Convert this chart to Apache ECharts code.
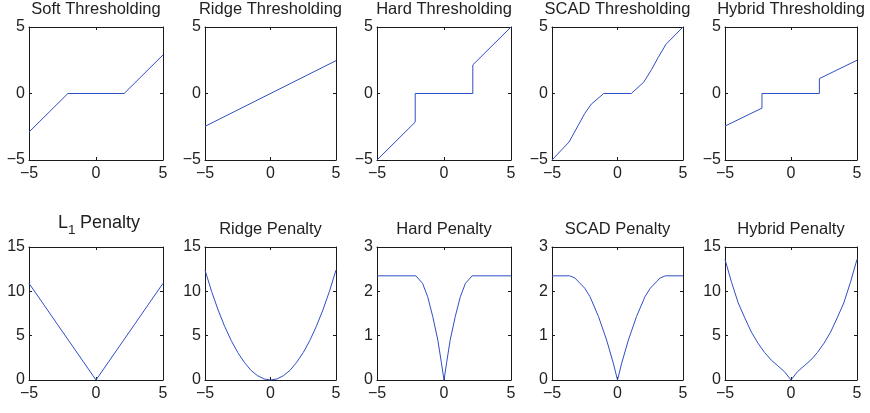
<!DOCTYPE html>
<html><head><meta charset="utf-8">
<script src="https://cdn.jsdelivr.net/npm/echarts@6/dist/echarts.min.js"></script>
<style>html,body{margin:0;padding:0;background:#fff}#c{width:870px;height:413px}</style>
</head><body><div id="c"></div>
<script>
// ---- data ----
const titles = ['Soft Thresholding','Ridge Thresholding','Hard Thresholding','SCAD Thresholding','Hybrid Thresholding',
                'L1 Penalty','Ridge Penalty','Hard Penalty','SCAD Penalty','Hybrid Penalty'];

const softThr   = [[-5,-2.9],[-2.1,0],[2.1,0],[5,2.9]];
const ridgeThr  = [[-5,-2.47],[5,2.47]];
const hardThr   = [[-5,-5],[-2.15,-2.15],[-2.15,0],[2.15,0],[2.15,2.15],[5,5]];
const scadThr   = [[-5,-5],[-3.7,-3.65],[-3.0,-2.4],[-2.5,-1.5],[-2.0,-0.8],[-1.05,0],
                   [1.05,0],[2.0,0.85],[2.6,1.8],[3.1,2.7],[3.7,3.7],[5,5]];
const hybridThr = [[-5,-2.45],[-2.2,-1.1],[-2.2,0],[2.15,0],[2.15,1.12],[5,2.5]];

const l1Pen     = [[-5,10.9],[0,0],[5,10.9]];
const ridgePen  = [[-5,12.4],[-4.5,10.0],[-4,7.9],[-3.5,6.05],[-3,4.45],[-2.5,3.1],[-2,2.0],[-1.5,1.1],[-1,0.5],[-0.5,0.12],[0,0],
                   [0.5,0.12],[1,0.5],[1.5,1.1],[2,2.0],[2.5,3.1],[3,4.45],[3.5,6.05],[4,7.9],[4.5,10.0],[5,12.4]];
const hardPen   = [[-5,2.35],[-2.1,2.35],[-1.6,2.18],[-1.22,1.88],[-0.84,1.43],[-0.46,0.9],[-0.2,0.4],[0,0],
                   [0.2,0.4],[0.46,0.9],[0.84,1.43],[1.22,1.88],[1.6,2.18],[2.1,2.35],[5,2.35]];
const scadPen   = [[-5,2.35],[-3.65,2.35],[-3.25,2.3],[-2.5,2.07],[-2.1,1.88],[-1.45,1.43],[-0.83,0.9],[-0.32,0.38],[0,0],
                   [0.32,0.38],[0.83,0.9],[1.45,1.43],[2.1,1.88],[2.5,2.07],[3.25,2.3],[3.65,2.35],[5,2.35]];
const hybridPen = [[-5,13.6],[-4.5,11.0],[-4,8.7],[-3.5,7.0],[-3,5.4],[-2.5,4.15],[-2,3.1],[-1.5,2.25],[-1,1.6],[-0.5,0.95],[0,0],
                   [0.5,0.95],[1,1.6],[1.5,2.25],[2,3.1],[2.5,4.15],[3,5.4],[3.5,7.0],[4,8.7],[4.5,11.0],[5,13.6]];

const panelData = [softThr, ridgeThr, hardThr, scadThr, hybridThr, l1Pen, ridgePen, hardPen, scadPen, hybridPen];
const xRange = [-5, 5, 5];
const yRanges = [[-5,5,5],[-5,5,5],[-5,5,5],[-5,5,5],[-5,5,5],[0,15,5],[0,15,5],[0,3,1],[0,3,1],[0,15,5]];

// ---- layout ----
const lefts = [29,205,377,552,725];
const widths = [134,131,134,131,132];
const tops = [27,247];
const H = 133;
const TXT = '#222';
const LINE = '#1a1a1a';
const BLUE = '#2e4fc4';
const FONT = '"Liberation Sans", Arial, Helvetica, sans-serif';
const minus = v => String(v).replace('-', '\u2212');

const grid = [], xAxis = [], yAxis = [], series = [], graphic = [];
for (let i = 0; i < 10; i++) {
  const r = Math.floor(i / 5), c = i % 5;
  grid.push({left: lefts[c], top: tops[r], width: widths[c], height: H, outerBoundsMode: 'none', containLabel: false});
  const common = {
    type: 'value', gridIndex: i, splitLine: {show: false},
    axisLine: {show: true, onZero: false, lineStyle: {color: LINE, width: 1}},
    axisTick: {show: true, inside: true, length: 3, lineStyle: {color: LINE}}
  };
  const lbl = {show: true, color: TXT, fontSize: 16, fontFamily: FONT, formatter: minus, showMinLabel: true, showMaxLabel: true};
  xAxis.push(Object.assign({}, common, {position: 'bottom', min: xRange[0], max: xRange[1], interval: xRange[2],
    axisLabel: Object.assign({}, lbl, {margin: 6})}));
  xAxis.push(Object.assign({}, common, {position: 'top', min: xRange[0], max: xRange[1], interval: xRange[2],
    axisLabel: {show: false}}));
  const yr = yRanges[i];
  yAxis.push(Object.assign({}, common, {position: 'left', min: yr[0], max: yr[1], interval: yr[2],
    axisLabel: Object.assign({}, lbl, {margin: 4})}));
  yAxis.push(Object.assign({}, common, {position: 'right', min: yr[0], max: yr[1], interval: yr[2],
    axisLabel: {show: false}}));
  series.push({type: 'line', xAxisIndex: 2 * i, yAxisIndex: 2 * i, data: panelData[i], showSymbol: false, symbol: 'none',
    clip: true, lineStyle: {color: BLUE, width: 1}, animation: false, silent: true});

  const cx = lefts[c] + widths[c] / 2;
  if (i === 5) {
    graphic.push({type: 'text', style: {text: 'L', x: 58, y: 223, textAlign: 'left', textVerticalAlign: 'middle', font: '18px ' + FONT, fill: TXT}});
    graphic.push({type: 'text', style: {text: '1', x: 68, y: 230.5, textAlign: 'left', textVerticalAlign: 'middle', font: '13.5px ' + FONT, fill: TXT}});
    graphic.push({type: 'text', style: {text: 'Penalty', x: 80, y: 223, textAlign: 'left', textVerticalAlign: 'middle', font: '18px ' + FONT, fill: TXT}});
  } else {
    graphic.push({type: 'text', style: {text: titles[i], x: cx, y: r === 0 ? 9.5 : 229, textAlign: 'center', textVerticalAlign: 'middle',
      font: '16.5px ' + FONT, fill: TXT}});
  }
}

const chart = echarts.init(document.getElementById('c'), null, {renderer: 'canvas'});
chart.setOption({animation: false, backgroundColor: '#fff', grid, xAxis, yAxis, series, graphic});
</script></body></html>
